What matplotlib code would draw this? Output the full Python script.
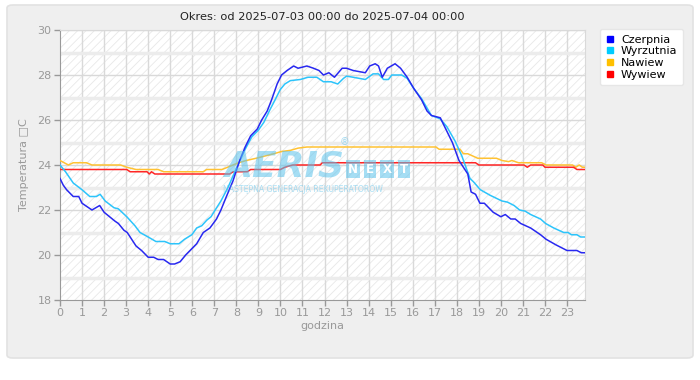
import matplotlib
matplotlib.use("Agg")
import matplotlib.pyplot as plt
from matplotlib.patches import FancyBboxPatch, Rectangle
from matplotlib.lines import Line2D

# data (hour of day, temperature in C)
czerpnia_h = [0.0, 0.15, 0.3, 0.6, 0.85, 1.0, 1.45, 1.8, 2.0, 2.5, 2.65, 2.9, 3.05, 3.45, 3.7,
              4.0, 4.25, 4.45, 4.7, 5.0, 5.2, 5.45, 5.7, 6.0, 6.2, 6.5, 6.8, 7.1, 7.3, 7.55,
              7.85, 8.15, 8.4, 8.65, 8.95, 9.15, 9.4, 9.6, 9.85, 10.05, 10.3, 10.6, 10.8, 11.2,
              11.5, 11.75, 11.95, 12.2, 12.45, 12.8, 13.0, 13.3, 13.85, 14.05, 14.3, 14.45,
              14.62, 14.85, 15.2, 15.45, 15.75, 16.05, 16.4, 16.65, 16.85, 17.25, 17.5, 17.8,
              18.1, 18.3, 18.5, 18.65, 18.85, 19.05, 19.25, 19.65, 20.0, 20.2, 20.45, 20.65,
              20.9, 21.35, 21.8, 22.05, 22.5, 23.0, 23.45, 23.65, 23.83]
czerpnia = [23.4, 23.1, 22.9, 22.6, 22.6, 22.3, 22.0, 22.2, 21.9, 21.5, 21.4, 21.1, 21.0, 20.4, 20.2,
            19.9, 19.9, 19.8, 19.8, 19.6, 19.6, 19.7, 20.0, 20.3, 20.5, 21.0, 21.2, 21.6, 22.0, 22.6,
            23.3, 24.2, 24.8, 25.3, 25.6, 26.0, 26.4, 26.9, 27.6, 28.0, 28.2, 28.4, 28.3, 28.4,
            28.3, 28.2, 28.0, 28.1, 27.9, 28.3, 28.3, 28.2, 28.1, 28.4, 28.5, 28.4,
            27.9, 28.3, 28.5, 28.3, 27.9, 27.4, 26.9, 26.4, 26.2, 26.1, 25.6, 25.0,
            24.2, 23.9, 23.6, 22.8, 22.7, 22.3, 22.3, 21.9, 21.7, 21.8, 21.6, 21.6,
            21.4, 21.2, 20.9, 20.7, 20.45, 20.2, 20.2, 20.1, 20.1]

wyrzutnia_h = [0.0, 0.25, 0.6, 1.0, 1.35, 1.65, 1.82, 2.05, 2.45, 2.65, 3.03, 3.4, 3.63, 4.0, 4.35,
               4.75, 5.0, 5.4, 5.65, 5.98, 6.2, 6.43, 6.66, 6.85, 7.04, 7.3, 7.62, 8.0, 8.4, 8.7,
               9.0, 9.25, 9.52, 9.76, 9.99, 10.2, 10.45, 10.9, 11.25, 11.65, 11.95, 12.3, 12.6,
               12.86, 13.0, 13.3, 13.85, 14.2, 14.45, 14.68, 14.9, 15.05, 15.5, 15.75, 16.05,
               16.4, 16.85, 17.25, 17.55, 17.93, 18.23, 18.6, 18.76, 19.07, 19.52, 20.05, 20.3,
               20.6, 20.85, 21.1, 21.35, 21.8, 22.03, 22.4, 22.85, 23.05, 23.2, 23.45, 23.62, 23.83]
wyrzutnia = [24.0, 23.7, 23.2, 22.9, 22.6, 22.6, 22.7, 22.4, 22.1, 22.05, 21.7, 21.3, 21.0, 20.8, 20.6,
             20.6, 20.5, 20.5, 20.7, 20.9, 21.2, 21.3, 21.55, 21.7, 22.0, 22.4, 23.0, 23.85, 24.7, 25.25,
             25.55, 25.9, 26.45, 26.9, 27.35, 27.6, 27.75, 27.8, 27.9, 27.9, 27.7, 27.7, 27.6,
             27.85, 27.95, 27.9, 27.8, 28.05, 28.05, 27.8, 27.8, 28.0, 28.0, 27.85, 27.4,
             26.95, 26.2, 26.05, 25.7, 25.05, 24.4, 23.4, 23.25, 22.9, 22.65, 22.4, 22.35,
             22.2, 22.0, 21.95, 21.8, 21.6, 21.4, 21.2, 21.0, 21.0, 20.9, 20.9, 20.8, 20.8]

nawiew_h = [0.0, 0.38, 0.6, 1.2, 1.45, 2.75, 3.03, 3.45, 4.45, 4.7, 6.5, 6.65, 7.35, 7.6, 7.85,
            8.1, 8.45, 8.9, 9.3, 9.7, 10.05, 10.45, 10.8, 11.2, 17.05, 17.2, 18.15, 18.3, 18.5,
            18.95, 19.8, 20.05, 20.35, 20.5, 20.8, 21.85, 22.05, 23.25, 23.4, 23.55, 23.7, 23.83]
nawiew = [24.2, 24.0, 24.1, 24.1, 24.0, 24.0, 23.9, 23.8, 23.8, 23.7, 23.7, 23.8, 23.8, 23.9, 24.0,
          24.1, 24.2, 24.3, 24.4, 24.5, 24.6, 24.65, 24.75, 24.8, 24.8, 24.7, 24.7, 24.5, 24.5,
          24.3, 24.3, 24.2, 24.15, 24.2, 24.1, 24.1, 24.0, 24.0, 23.9, 24.0, 23.9, 23.9]

wywiew_h = [0.0, 3.03, 3.18, 3.95, 4.05, 4.15, 4.3, 7.7, 7.85, 8.5, 8.65, 10.0, 10.2, 10.55, 11.8,
            11.9, 18.85, 19.0, 21.05, 21.2, 21.35, 21.9, 22.0, 23.3, 23.45, 23.83]
wywiew = [23.8, 23.8, 23.7, 23.7, 23.6, 23.7, 23.6, 23.6, 23.7, 23.7, 23.8, 23.8, 23.9, 24.0, 24.0,
          24.1, 24.1, 24.0, 24.0, 23.9, 24.0, 24.0, 23.9, 23.9, 23.8, 23.8]

names = ["Czerpnia", "Wyrzutnia", "Nawiew", "Wywiew"]
line_colors = ["#2828f0", "#2cc4fb", "#ffc233", "#ff2626"]
legend_colors = ["#0000ff", "#00ccff", "#ffc000", "#ff0000"]
hour_ticks = list(range(24))
temp_ticks = [18, 20, 22, 24, 26, 28, 30]
title = "Okres: od 2025-07-03 00:00 do 2025-07-04 00:00"

plt.rcParams['font.family'] = ['DejaVu Sans']
plt.rcParams['hatch.linewidth'] = 0.6

fig = plt.figure(figsize=(7, 3.8), dpi=100)
fig.patch.set_facecolor('white')

# grey rounded panel behind everything
panel = FancyBboxPatch((7 / 700, 1 - 358 / 380), 686 / 700, 353 / 380,
                       boxstyle="round,pad=0,rounding_size=0.008",
                       transform=fig.transFigure, facecolor='#efefef',
                       edgecolor='#e2e2e2', linewidth=1.2, zorder=-10)
fig.patches.append(panel)

ax = fig.add_axes([60 / 700, 1 - 300 / 380, 525.3 / 700, 270 / 380])
ax.set_facecolor('white')
ax.add_patch(Rectangle((0, 0), 1, 1, transform=ax.transAxes, facecolor='white',
                       hatch='////', edgecolor='#e8e8e8', linewidth=0, zorder=0))

ax.set_xlim(0, 23.83)
ax.set_ylim(18, 30)

# grid: hour lines, even degrees thin, odd degrees wide and pale
for h in hour_ticks[1:]:
    ax.axvline(h, color='#d9d9d9', lw=1, zorder=1)
for t in range(19, 30, 2):
    ax.axhline(t, color='#ececec', lw=2.5, zorder=1)
for t in temp_ticks[1:]:
    ax.axhline(t, color='#d9d9d9', lw=1, zorder=1)

series = [(czerpnia_h, czerpnia), (wyrzutnia_h, wyrzutnia), (nawiew_h, nawiew), (wywiew_h, wywiew)]
draw_order = [2, 3, 1, 0]
for k, i in enumerate(draw_order):
    hx, vals = series[i]
    ax.plot(hx, vals, color=line_colors[i], lw=1.1, zorder=3 + k)

ax.set_xticks(hour_ticks)
ax.set_yticks(temp_ticks)
ax.tick_params(colors='#999999', labelsize=8, length=4, width=1, pad=2)
for s in ['left', 'bottom']:
    ax.spines[s].set_color('#999999')
for s in ['top', 'right']:
    ax.spines[s].set_color('#d9d9d9')
ax.set_xlabel("godzina", color='#999999', fontsize=8, labelpad=2)
ax.set_ylabel("Temperatura \u25a1C", color='#999999', fontsize=8, labelpad=6)

fig.text(322 / 700, 1 - 17 / 380, title, ha='center', va='center', fontsize=8.2, color='#222222')

# faint brand watermark over the plot
wm = '#5cc3ec'
ax.text(0.312, 0.458, "AERIS", transform=ax.transAxes, fontsize=26, fontweight='bold',
        fontstyle='italic', color=wm, alpha=0.55, ha='left', va='baseline', zorder=10)
ax.text(0.532, 0.585, "\u00ae", transform=ax.transAxes, fontsize=7, color=wm, alpha=0.55,
        ha='left', va='center', zorder=10)
for letter, xf in zip("NEXT", [0.558, 0.590, 0.623, 0.655]):
    ax.text(xf, 0.485, letter, transform=ax.transAxes, fontsize=8.5, fontweight='bold',
            color='white', ha='center', va='center', zorder=11,
            bbox=dict(boxstyle='square,pad=0.2', facecolor=wm, edgecolor='none', alpha=0.55))
ax.text(0.31, 0.412, "NASTĘPNA GENERACJA REKUPERATORÓW", transform=ax.transAxes, fontsize=5.6,
        color=wm, alpha=0.5, ha='left', va='center', zorder=10)

handles = [Line2D([], [], marker='s', linestyle='none', markersize=4.5, color=c) for c in legend_colors]
leg = fig.legend(handles, names, loc='upper left', bbox_to_anchor=(600 / 700, 1 - 29 / 380),
                 fontsize=8, frameon=True, fancybox=True, handlelength=0.8, handletextpad=0.6,
                 labelspacing=0.15, borderpad=0.5, borderaxespad=0)
leg.get_frame().set_facecolor('white')
leg.get_frame().set_edgecolor('#e6e6e6')
leg.get_frame().set_alpha(1)

fig.savefig("out.png", dpi=100)
